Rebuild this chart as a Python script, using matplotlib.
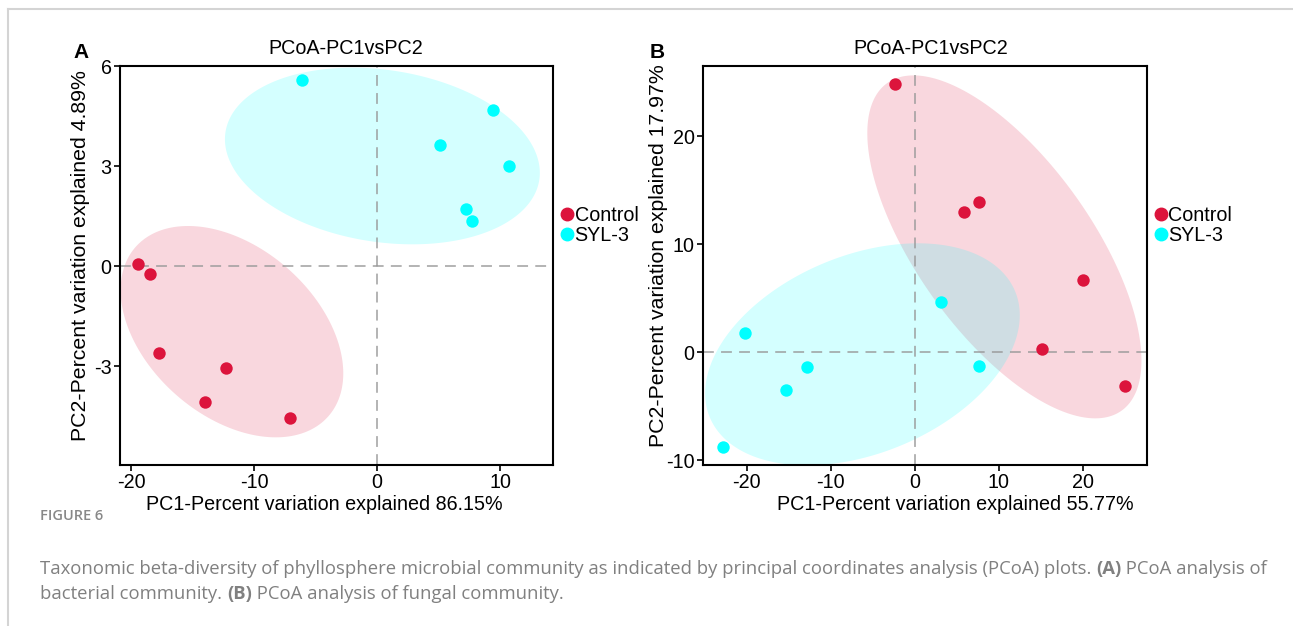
import numpy as np
import matplotlib
matplotlib.use("Agg")
import matplotlib.pyplot as plt
from matplotlib.lines import Line2D

plt.rcParams['font.family'] = ['Liberation Sans', 'DejaVu Sans']
plt.rcParams['axes.unicode_minus'] = False

groups = ["Control", "SYL-3"]
colors = ["#DC143C", "#00FFFF"]

# panel A (bacteria)
a_ctrl_x = [-19.4, -18.5, -17.7, -12.3, -14.0, -7.1]
a_ctrl_y = [0.06, -0.24, -2.6, -3.07, -4.07, -4.55]
a_syl_x = [-6.1, 9.45, 5.1, 10.7, 7.25, 7.75]
a_syl_y = [5.57, 4.69, 3.63, 3.0, 1.72, 1.34]

# panel B (fungi)
b_ctrl_x = [-2.37, 5.78, 7.66, 20.0, 15.17, 25.04]
b_ctrl_y = [24.86, 13.0, 13.87, 6.66, 0.25, -3.18]
b_syl_x = [3.06, -20.2, -12.85, -15.3, 7.66, -22.8]
b_syl_y = [4.64, 1.8, -1.42, -3.46, -1.27, -8.76]

# ellipses: centre x, centre y, half-width, half-height, cos(phase)
a_ell = [(-11.8, -1.97, 9.05, 3.17, -0.394), (0.43, 3.3, 12.8, 2.65, -0.19)]
b_ell = [(10.64, 9.75, 16.3, 15.88, -0.663), (-6.24, -0.2, 18.71, 10.28, 0.352)]

W, H = 1293, 626
fig = plt.figure(figsize=(W / 100, H / 100), dpi=100)
FS = 14.2


def px_axes(l, t, r, b):
    return fig.add_axes([l / W, 1 - b / H, (r - l) / W, (b - t) / H])


def draw_panel(ax, pts, ells, xlim, ylim, xticks, yticks, xlab, ylab, xlab_x, ylab_x):
    t = np.linspace(0, 2 * np.pi, 300)
    for (cx, cy, rx, ry, c), col in zip(ells, colors):
        d = np.arccos(c)
        ax.fill(cx + rx * np.cos(t), cy + ry * np.cos(t + d), color=col,
                alpha=0.17, lw=0, zorder=1)
    ax.axhline(0, color="#999999", lw=1.3, ls=(0, (6, 4)), alpha=0.8, zorder=2)
    ax.axvline(0, color="#999999", lw=1.3, ls=(0, (6, 4)), alpha=0.8, zorder=2)
    for (x, y), col in zip(pts, colors):
        ax.scatter(x, y, s=80, color=col, lw=0, zorder=3)
    ax.set_xlim(xlim)
    ax.set_ylim(ylim)
    ax.set_xticks(xticks)
    ax.set_yticks(yticks)
    ax.tick_params(labelsize=FS, length=4, width=1.2, pad=2)
    for s in ax.spines.values():
        s.set_linewidth(1.5)
    ax.set_xlabel(xlab, fontsize=FS, labelpad=2)
    ax.xaxis.set_label_coords(xlab_x, -0.075)
    ax.set_ylabel(ylab, fontsize=15.3, va="center")
    ax.yaxis.set_label_coords(ylab_x, (465 - 256) / 399)


axA = px_axes(120, 66, 553, 465)
draw_panel(axA, [(a_ctrl_x, a_ctrl_y), (a_syl_x, a_syl_y)], a_ell,
           (-20.9, 14.3), (-5.97, 6.0), [-20, -10, 0, 10], [-3, 0, 3, 6],
           "PC1-Percent variation explained 86.15%",
           "PC2-Percent variation explained 4.89%",
           (324 - 120) / 433, (81 - 120) / 433)

axB = px_axes(703, 66, 1147, 465)
draw_panel(axB, [(b_ctrl_x, b_ctrl_y), (b_syl_x, b_syl_y)], b_ell,
           (-25.2, 27.6), (-10.45, 26.5), [-20, -10, 0, 10, 20], [-10, 0, 10, 20],
           "PC1-Percent variation explained 55.77%",
           "PC2-Percent variation explained 17.97%",
           (955 - 703) / 444, (659 - 703) / 444)

for ax, tx, lx, lab in [(axA, 346, 81, "A"), (axB, 931, 657, "B")]:
    fig.text(tx / W, 1 - 48 / H, "PCoA-PC1vsPC2", fontsize=FS, ha="center", va="center")
    fig.text(lx / W, 1 - 53 / H, lab, fontsize=15, fontweight="bold", ha="center", va="center")
    handles = [Line2D([], [], marker="o", ls="", color=c, markersize=9) for c in colors]
    ax.legend(handles, groups, loc="center left", bbox_to_anchor=(0.995, 0.6),
              frameon=False, fontsize=FS, handletextpad=0.0, handlelength=0.8,
              labelspacing=0.05, borderaxespad=0.0)

# frame lines
fig.add_artist(Line2D([8 / W, 1], [1 - 9 / H, 1 - 9 / H], color="#d4d4d4", lw=1.5))
fig.add_artist(Line2D([8 / W, 8 / W], [0, 1 - 9 / H], color="#d4d4d4", lw=1.5))

# caption
cap_font = ['Open Sans', 'DejaVu Sans']
fig.text(40 / W, 1 - 516 / H, "FIGURE 6", fontsize=10.5, family=cap_font,
         fontweight="semibold", color="#888888", va="center")

renderer = fig.canvas.get_renderer()


def rich_line(x, y, parts):
    for s, bold in parts:
        t = fig.text(x / W, 1 - y / H, s, fontsize=13.3, family=cap_font, color="#808080",
                     fontweight="bold" if bold else "normal", va="center")
        bb = t.get_window_extent(renderer)
        x += bb.width


rich_line(40, 569, [("Taxonomic beta-diversity of phyllosphere microbial community as indicated by "
                     "principal coordinates analysis (PCoA) plots. ", False),
                    ("(A)", True), (" PCoA analysis of", False)])
rich_line(40, 594, [("bacterial community. ", False), ("(B)", True),
                    (" PCoA analysis of fungal community.", False)])

fig.savefig("out.png", dpi=100)
